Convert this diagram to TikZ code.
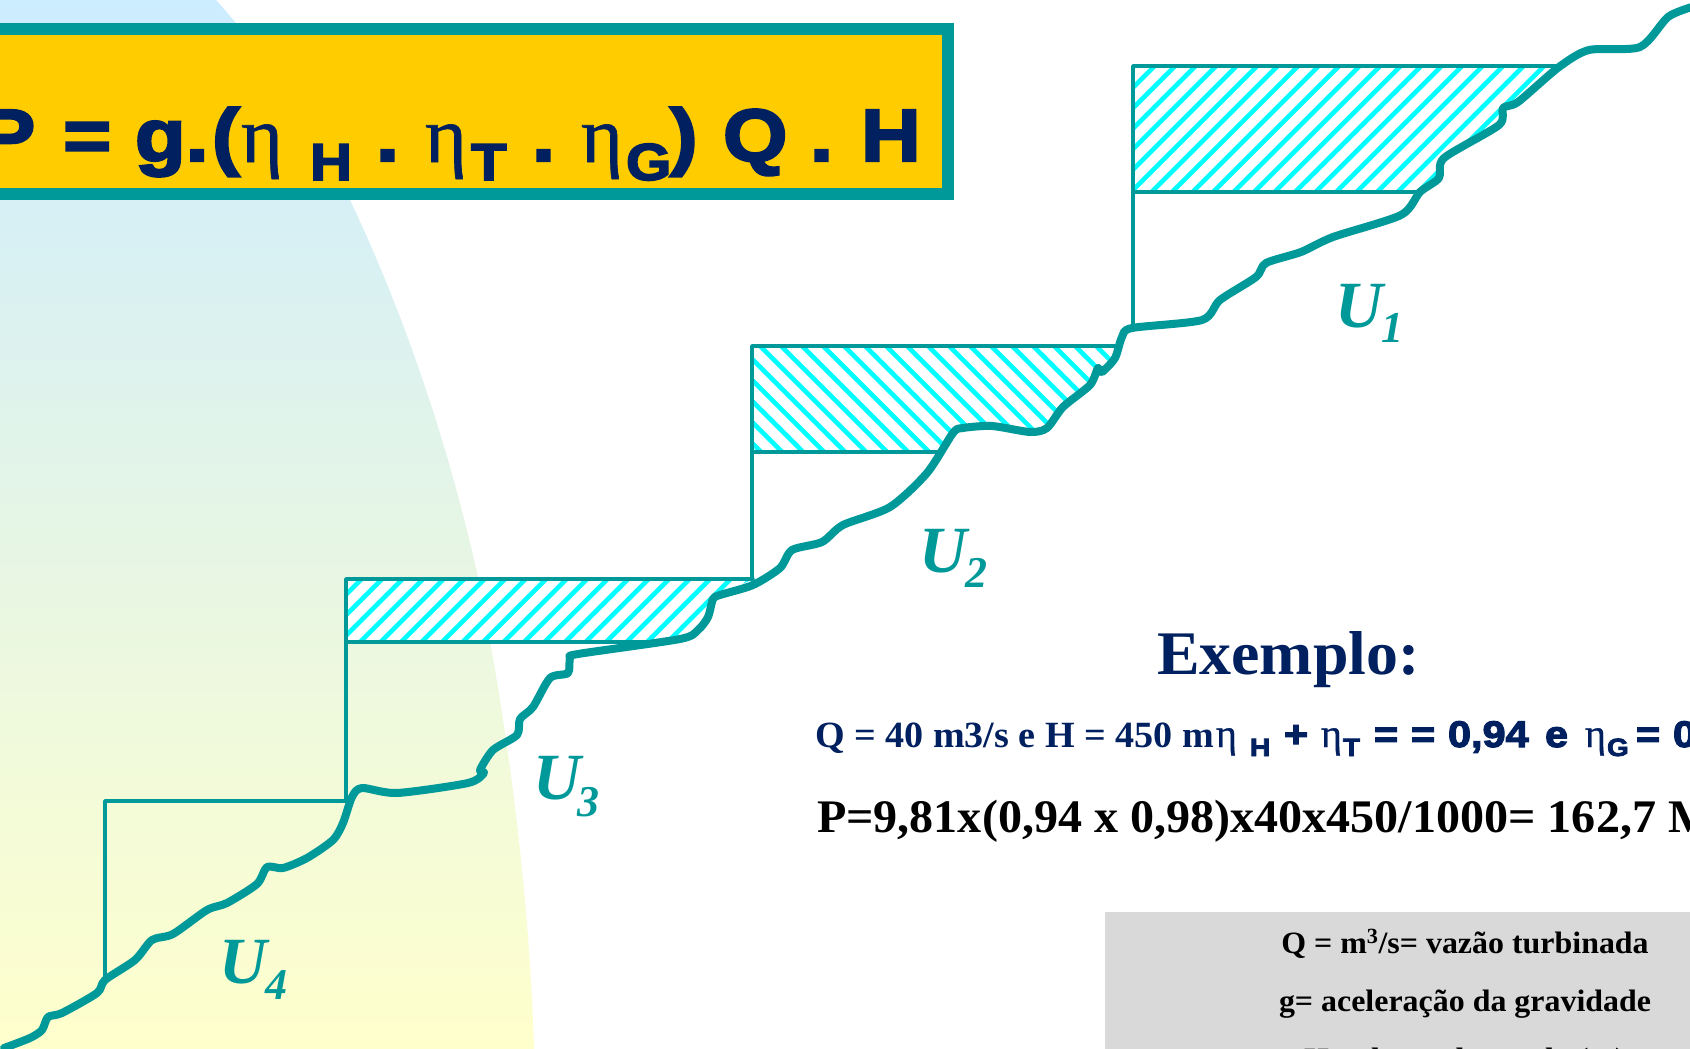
\documentclass[tikz,border=0pt]{standalone}
\usepackage{fontspec}
\setmainfont{Liberation Serif}
\newfontfamily\blk{Liberation Sans}[UprightFont={* Bold},FakeBold=3.2,FakeStretch=1.12]
\newfontfamily\tms{Liberation Serif}[UprightFont={* Bold},FakeStretch=1.03]
\newfontfamily\tmi{Liberation Serif}[UprightFont={* Bold Italic}]
\newfontfamily\tmr{Liberation Serif}[FakeBold=0.8]
\definecolor{teal9}{HTML}{009999}
\definecolor{navy9}{HTML}{002060}
\definecolor{gold9}{HTML}{FFCC00}
\definecolor{cyan9}{HTML}{00FFFF}
\definecolor{grey9}{HTML}{D9D9D9}
\definecolor{sky9}{HTML}{CCECFF}
\definecolor{lem9}{HTML}{FFFFCC}
\tikzset{
 txt/.style={inner sep=0pt,outer sep=0pt,anchor=base west},
 ttl/.style={txt,text=navy9,font=\blk\fontsize{74}{74}\selectfont},
 ttlsub/.style={txt,text=navy9,font=\blk\fontsize{52}{52}\selectfont},
 eta/.style={txt,text=navy9,font=\tmr\fontsize{80}{80}\selectfont},
 qs/.style={txt,text=navy9,font=\tms\fontsize{37}{37}\selectfont},
 qb/.style={txt,text=navy9,font=\blk\fontsize{37}{37}\selectfont},
 qbsub/.style={txt,text=navy9,font=\blk\fontsize{25}{25}\selectfont},
 qe/.style={txt,text=navy9,font=\tmr\fontsize{40}{40}\selectfont},
 ul/.style={txt,text=teal9,font=\tmi\fontsize{66}{66}\selectfont},
 us/.style={txt,text=teal9,font=\tmi\fontsize{44}{44}\selectfont},
 leg/.style={txt,anchor=base,text=black,font=\tms\fontsize{31}{31}\selectfont},
 rect/.style={draw=teal9,line width=3.5pt,line cap=round,line join=round},
 ground/.style={draw=teal9,line width=8pt,line cap=round,line join=round},
 hatchline/.style={draw=cyan9,line width=4.6pt},
}
\newcommand{\hatchNE}[3]{\foreach \k in {0,...,#3}{\draw[hatchline] ({#1+\k*20.5},#2) -- ({#1+\k*20.5-300},{#2+300});}}
\newcommand{\hatchSE}[3]{\foreach \k in {0,...,#3}{\draw[hatchline] ({#1+\k*21},#2) -- ({#1+\k*21+300},{#2+300});}}
\begin{document}
\begin{tikzpicture}[x=1pt,y=-1pt]
\useasboundingbox (0,0) rectangle (1690,1049);
\clip (0,0) rectangle (1690,1049);
\fill[white] (0,0) rectangle (1690,1049);
% background arc
\shade[top color=sky9,bottom color=lem9] (0,0) -- (216,0) .. controls (270,60) and (317,130) .. (350,200) .. controls (409,325) and (450,452) .. (478,577) .. controls (509,734) and (529,892) .. (534,1049) -- (0,1049) -- cycle;
% hatching
\begin{scope}
\clip (1133,66) -- (1561,66) -- (1518,102) -- (1503,108) -- (1499,125) -- (1444,158) -- (1439,178) -- (1420,192) -- (1133,192) -- cycle;
\fill[white] (1133,66) rectangle (1561,192);
\hatchNE{1140}{60}{30}
\end{scope}
\begin{scope}
\clip (752,346) -- (1117,346) -- (1115,358) -- (1102,372) -- (1090,385) -- (1063,407) -- (1047,428) -- (1030,432) -- (992,426) -- (953,433) -- (940,452) -- (752,452) -- cycle;
\fill[white] (752,346) rectangle (1117,452);
\hatchSE{460}{340}{35}
\end{scope}
\begin{scope}
\clip (346,579) -- (753,579) -- (720,595) -- (713,599) -- (708,617) -- (698,630) -- (680,639) -- (653,642) -- (346,642) -- cycle;
\fill[white] (346,579) rectangle (753,642);
\hatchNE{350}{570}{32}
\end{scope}
% sluice outlines
\draw[rect] (1421,192) -- (1133,192);
\draw[rect] (1133,327) -- (1133,66) -- (1561,66);
\draw[rect] (940,452) -- (752,452);
\draw[rect] (752,580) -- (752,346) -- (1117,346);
\draw[rect] (653,642) -- (346,642);
\draw[rect] (346,801) -- (346,579) -- (753,579);
\draw[rect] (105,980) -- (105,801) -- (348,801);
% ground profile
\draw[ground] plot[smooth,tension=0.45] coordinates {
(4,1048) (30,1038) (42,1030) (48,1017) (62,1013) (97,993) (105,980) (135,960) (152,940) (173,934) (207,910) (227,903) (257,884) (267,867) (283,868) (307,858) (333,840) (343,823) (352,797) (362,788) (397,793) (468,783) (484,773) (480,770) (493,750) (517,735) (520,719) (533,707) (550,678) (568,673) (570,658) (578,654) (680,639) (698,630) (708,617) (713,599) (720,595) (753,585) (780,568) (792,550) (822,542) (843,525) (890,507) (927,473) (953,433) (963,428) (992,426) (1030,432) (1047,428) (1063,407) (1090,385) (1098,368) (1102,372) (1115,358) (1122,337) (1132,328) (1202,320) (1220,300) (1256,277) (1266,263) (1301,252) (1333,237) (1401,215) (1420,192) (1439,178) (1444,158) (1499,125) (1503,108) (1518,102) (1559,67) (1589,50) (1640,47) (1668,17) (1692,7)};
% title box
\draw[draw=teal9,fill=gold9,line width=12pt] (-20,29) rectangle (948,194);
\node[ttl] (t1) at (-20,161) {P};
\node[ttl] (t2) at (63,161) {=};
\node[ttl] (t3) at (135,161) {g.};
\node[ttl] (t4) at (212,161) {(};
\node[eta] (t5) at (241,162) {η};
\node[ttlsub] (t6) at (310,180) {H};
\node[ttl] (t7) at (376,161) {.};
\node[eta] (t8) at (425,162) {η};
\node[ttlsub] (t9) at (471,180) {T};
\node[ttl] (t10) at (532,161) {.};
\node[eta] (t11) at (581,162) {η};
\node[ttlsub] (t12) at (626,180) {G};
\node[ttl] (t13) at (670,161) {)};
\node[ttl] (t14) at (723,161) {Q};
\node[ttl] (t15) at (810,161) {.};
\node[ttl] (t16) at (861,161) {H};
% labels
\node[ul] (u1) at (1335,327) {U}; \node[us] (u1s) at (1381,342) {1};
\node[ul] (u2) at (919,572) {U};  \node[us] (u2s) at (965,587) {2};
\node[ul] (u3) at (533,799) {U};  \node[us] (u3s) at (577,816) {3};
\node[ul] (u4) at (219,983) {U};  \node[us] (u4s) at (265,999) {4};
% example
\node[txt,text=navy9,font=\tms\fontsize{62}{62}\selectfont] (ex) at (1157,674) {Exemplo:};
\node[qs] (q1) at (815,747) {Q = 40 m3/s e H = 450 m};
\node[qe] (q2) at (1216,747) {η};
\node[qbsub] (q3) at (1250,756) {H};
\node[qb] (q4) at (1284,747) {+};
\node[qe] (q5) at (1321,747) {η};
\node[qbsub] (q6) at (1343,756) {T};
\node[qb] (q7) at (1374,747) {=};
\node[qb] (q8) at (1411,747) {=};
\node[qb] (q9) at (1448,747) {0,94};
\node[qb] (q10) at (1545,747) {e};
\node[qe] (q11) at (1585,747) {η};
\node[qbsub] (q12) at (1607,756) {G};
\node[qb] (q13) at (1636,747) {=};
\node[qb] (q14) at (1673,747) {0,98};
\node[txt,text=black,font=\tms\fontsize{46.7}{47}\selectfont] (p1) at (817,832) {P=9,81x(0,94 x 0,98)x40x450/1000= 162,7 MW};
% legend
\fill[grey9] (1105,912) rectangle (1700,1060);
\node[leg] (l1) at (1465,953) {Q = m\textsuperscript{3}/s= vazão turbinada};
\node[leg] (l2) at (1465,1011) {g= aceleração da gravidade};
\node[leg] (l3) at (1465,1069) {H= altura de queda (m)};
\end{tikzpicture}
\end{document}
